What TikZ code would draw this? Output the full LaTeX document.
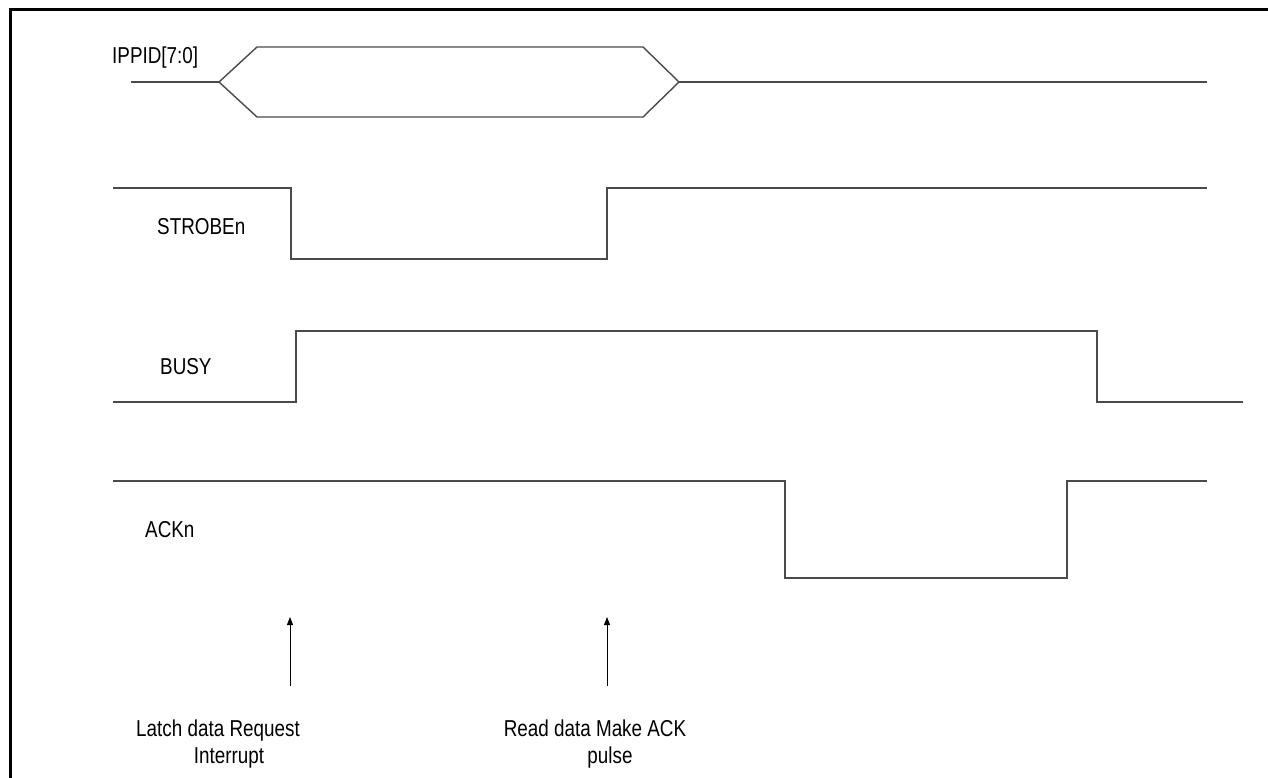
\documentclass[tikz,border=0pt]{standalone}
\usepackage{fontspec}
\setmainfont{Liberation Sans}[FakeStretch=0.82]
\usetikzlibrary{arrows.meta}
\definecolor{WireGray}{HTML}{4A4A4A}

\begin{document}
\begin{tikzpicture}[x=1pt,y=-1pt,>={Triangle[length=8pt,width=6pt]},
  wave/.style={line width=1.4pt,WireGray,line join=miter},
  signame/.style={font=\fontsize{23}{27}\selectfont,inner sep=0pt,anchor=base west},
  note/.style={font=\fontsize{23}{27}\selectfont,inner sep=0pt,align=center,anchor=base},
  marker/.style={->,line width=0.9pt,black}]
  \useasboundingbox (0,0) rectangle (1268,778);
  % open frame
  \draw[line width=3pt] (1268,10) -- (10,10) -- (10,778);
  % signal names
  \node[signame] (ippid) at (112,64) {IPPID[7:0]};
  \node[signame] (strobe) at (157,234) {STROBEn};
  \node[signame] (busy) at (160,374) {BUSY};
  \node[signame] (ack) at (145,537) {ACKn};
  % waveforms
  \draw[wave] (131,82) -- (219,82);
  \draw[wave] (219,82) -- (257,47) -- (643,47) -- (679,82) -- (643,117) -- (257,117) -- cycle;
  \draw[wave] (679,82) -- (1207,82);
  \draw[wave] (113,188) -- (291,188) -- (291,259) -- (607,259) -- (607,188) -- (1207,188);
  \draw[wave] (113,402) -- (296,402) -- (296,331) -- (1097,331) -- (1097,402) -- (1243,402);
  \draw[wave] (113,481) -- (785,481) -- (785,578) -- (1067,578) -- (1067,481) -- (1207,481);
  % event markers
  \coordinate (latchtail) at (290,686);
  \coordinate (latchtip) at (290,617);
  \coordinate (readtail) at (607,686);
  \coordinate (readtip) at (607,617);
  \draw[marker] (latchtail) -- (latchtip);
  \draw[marker] (readtail) -- (readtip);
  \node[note] (latch) at (218,763) {Latch data Request\\\hspace*{22pt}Interrupt};
  \node[note] (read) at (595,763) {Read data Make ACK\\\hspace*{30pt}pulse};
\end{tikzpicture}
\end{document}
